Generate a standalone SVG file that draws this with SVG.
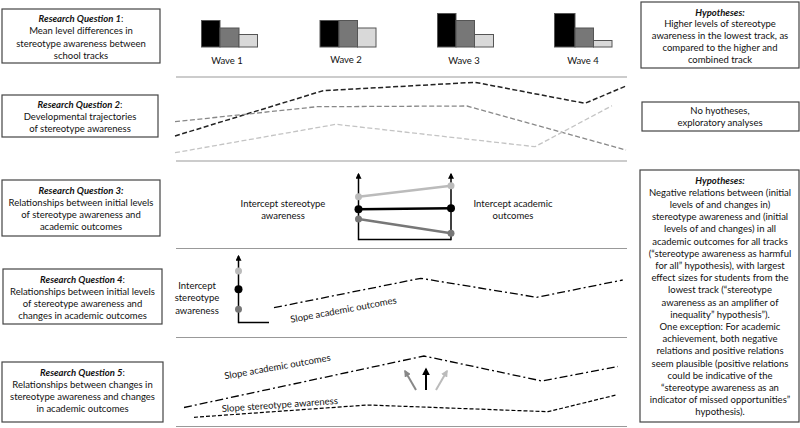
<svg xmlns="http://www.w3.org/2000/svg" width="800" height="428" viewBox="0 0 800 428">
<style>
text{font-family:Lato,"Liberation Sans",sans-serif;font-size:9.5px;fill:#111;text-anchor:middle}
.b{font-weight:bold;font-style:italic}
.box{fill:#fff;stroke:#444;stroke-width:1.2}
.sep{stroke:#999;stroke-width:1;fill:none}
.bar{stroke:#555;stroke-width:1}
.ax{stroke:#000;stroke-width:1.5;fill:none}
</style>
<defs>
<marker id="ah" viewBox="0 0 10 10" refX="8" refY="5" markerWidth="4" markerHeight="4" orient="auto"><path d="M0,0L10,5L0,10z" fill="#000"/></marker>
<marker id="ahg" viewBox="0 0 10 10" refX="8" refY="5" markerWidth="3.5" markerHeight="3.5" orient="auto"><path d="M0,0L10,5L0,10z" fill="#888"/></marker>
<marker id="ahl" viewBox="0 0 10 10" refX="8" refY="5" markerWidth="3.5" markerHeight="3.5" orient="auto"><path d="M0,0L10,5L0,10z" fill="#bbb"/></marker>
</defs>
<rect width="800" height="428" fill="#fff"/>

<!-- Left question boxes -->
<g id="rq1"><rect class="box" x="2" y="9" width="158" height="54"/>
<text x="81" y="21.5"><tspan class="b">Research Question 1</tspan>:</text>
<text x="81" y="34">Mean level differences in</text>
<text x="81" y="46.5">stereotype awareness between</text>
<text x="81" y="59">school tracks</text></g>

<g id="rq2"><rect class="box" x="2" y="95" width="156" height="42"/>
<text x="80" y="107.5"><tspan class="b">Research Question 2</tspan>:</text>
<text x="80" y="119.5">Developmental trajectories</text>
<text x="80" y="131.5">of stereotype awareness</text></g>

<g id="rq3"><rect class="box" x="2" y="180" width="158" height="56"/>
<text x="81" y="193.5" class="b">Research Question 3:</text>
<text x="81" y="205.5">Relationships between initial levels</text>
<text x="81" y="217.5">of stereotype awareness and</text>
<text x="81" y="229.5">academic outcomes</text></g>

<g id="rq4"><rect class="box" x="3" y="269" width="159" height="55"/>
<text x="82.5" y="282.5"><tspan class="b">Research Question 4</tspan>:</text>
<text x="82.5" y="294.5">Relationships between initial levels</text>
<text x="82.5" y="306.5">of stereotype awareness and</text>
<text x="82.5" y="318.5">changes in academic outcomes</text></g>

<g id="rq5"><rect class="box" x="2" y="362" width="161" height="60"/>
<text x="82.5" y="376"><tspan class="b">Research Question 5</tspan>:</text>
<text x="82.5" y="388">Relationships between changes in</text>
<text x="82.5" y="400">stereotype awareness and changes</text>
<text x="82.5" y="412">in academic outcomes</text></g>

<!-- Right hypotheses boxes -->
<g id="h1"><rect class="box" x="641" y="2" width="158" height="66"/>
<text x="720" y="15.5" class="b">Hypotheses:</text>
<text x="720" y="27">Higher levels of stereotype</text>
<text x="720" y="38.5">awareness in the lowest track, as</text>
<text x="720" y="50.5">compared to the higher and</text>
<text x="720" y="62.5">combined track</text></g>

<g id="h2"><rect class="box" x="642" y="102" width="157" height="29"/>
<text x="720" y="113.5">No hyotheses,</text>
<text x="720" y="125.5">exploratory analyses</text></g>

<g id="h3"><rect class="box" x="640" y="170" width="159" height="252"/>
<text x="720" y="183.5" class="b">Hypotheses:</text>
<text x="720" y="195.7">Negative relations between (initial</text>
<text x="720" y="207.9">levels of and changes in)</text>
<text x="720" y="220.1">stereotype awareness and (initial</text>
<text x="720" y="232.3">levels of and changes) in all</text>
<text x="720" y="244.5">academic outcomes for all tracks</text>
<text x="720" y="256.7">(“stereotype awareness as harmful</text>
<text x="720" y="268.9">for all” hypothesis), with largest</text>
<text x="720" y="281.1">effect sizes for students from the</text>
<text x="720" y="293.3">lowest track (“stereotype</text>
<text x="720" y="305.5">awareness as an amplifier of</text>
<text x="720" y="317.7">inequality” hypothesis”).</text>
<text x="720" y="329.9">One exception: For academic</text>
<text x="720" y="342.1">achievement, both negative</text>
<text x="720" y="354.3">relations and positive relations</text>
<text x="720" y="366.5">seem plausible (positive relations</text>
<text x="720" y="378.7">could be indicative of the</text>
<text x="720" y="390.9">“stereotype awareness as an</text>
<text x="720" y="403.1">indicator of missed opportunities”</text>
<text x="720" y="415.3">hypothesis).</text></g>

<!-- Separators -->
<g id="separators">
<line class="sep" x1="176" y1="77" x2="627" y2="77"/>
<line class="sep" x1="176" y1="161" x2="627" y2="161"/>
<line class="sep" x1="176" y1="248.5" x2="627" y2="248.5"/>
<line class="sep" x1="176" y1="337.5" x2="627" y2="337.5"/>
<line class="sep" x1="176" y1="426.5" x2="627" y2="426.5"/>
</g>

<!-- RQ1 bar charts -->
<g id="wave1">
<rect class="bar" x="201.5" y="20.5" width="18.5" height="26.5" fill="#000"/>
<rect class="bar" x="220" y="28" width="19" height="19" fill="#777"/>
<rect class="bar" x="239" y="34.5" width="18.5" height="12.5" fill="#d9d9d9"/>
<text x="227" y="64">Wave 1</text></g>
<g id="wave2">
<rect class="bar" x="320" y="20.5" width="19" height="26.5" fill="#000"/>
<rect class="bar" x="339" y="20.5" width="18.5" height="26.5" fill="#777"/>
<rect class="bar" x="357.5" y="28" width="18.5" height="19" fill="#d9d9d9"/>
<text x="346" y="63">Wave 2</text></g>
<g id="wave3">
<rect class="bar" x="437.5" y="13.5" width="18.5" height="33.5" fill="#000"/>
<rect class="bar" x="456" y="20.5" width="18.5" height="26.5" fill="#777"/>
<rect class="bar" x="474.5" y="34.5" width="19" height="12.5" fill="#d9d9d9"/>
<text x="464" y="64">Wave 3</text></g>
<g id="wave4">
<rect class="bar" x="554.5" y="13.5" width="20.5" height="33.5" fill="#000"/>
<rect class="bar" x="575" y="28" width="18.5" height="19" fill="#777"/>
<rect class="bar" x="593.5" y="40.5" width="18.5" height="6.5" fill="#d9d9d9"/>
<text x="583" y="64">Wave 4</text></g>

<!-- RQ2 trajectories -->
<g id="trajectories" fill="none">
<polyline points="175,136 323,90.7 475,82.3 585,103.3 626,86" stroke="#222" stroke-width="1.5" stroke-dasharray="5,2.5"/>
<polyline points="175,121.7 317,106.7 467,106 626,150" stroke="#888" stroke-width="1.3" stroke-dasharray="5,2.5"/>
<polyline points="175,152.7 336,124.3 535,146.7 612,105.7" stroke="#c4c4c4" stroke-width="1.3" stroke-dasharray="5,2.5"/>
</g>

<!-- RQ3 -->
<g id="rq3-plot">
<line class="ax" x1="358.5" y1="239.5" x2="451" y2="239.5"/>
<line class="ax" x1="358.5" y1="240.2" x2="358.5" y2="174" marker-end="url(#ah)"/>
<line class="ax" x1="451" y1="240.2" x2="451" y2="174" marker-end="url(#ah)"/>
<line x1="358.5" y1="196.7" x2="451" y2="185.7" stroke="#bbb" stroke-width="2.5"/>
<line x1="358.5" y1="209.3" x2="451" y2="208.3" stroke="#000" stroke-width="2.5"/>
<line x1="358.5" y1="219" x2="451" y2="233.3" stroke="#777" stroke-width="2.5"/>
<circle cx="358.5" cy="196.7" r="3.5" fill="#bbb"/>
<circle cx="451" cy="185.7" r="3.5" fill="#bbb"/>
<circle cx="358.5" cy="209.3" r="4" fill="#000"/>
<circle cx="451" cy="208.3" r="4" fill="#000"/>
<circle cx="358.5" cy="219" r="3.5" fill="#777"/>
<circle cx="451" cy="233.3" r="3.5" fill="#777"/>
<text x="283" y="206.5">Intercept stereotype</text>
<text x="283" y="218.5">awareness</text>
<text x="513" y="206.5">Intercept academic</text>
<text x="513" y="218.5">outcomes</text>
</g>

<!-- RQ4 -->
<g id="rq4-plot">
<line class="ax" x1="238.5" y1="322.5" x2="269" y2="322.5"/>
<line class="ax" x1="238.5" y1="323.2" x2="238.5" y2="256" marker-end="url(#ah)"/>
<circle cx="238.5" cy="271" r="3.5" fill="#bbb"/>
<circle cx="238.5" cy="289.3" r="4" fill="#000"/>
<circle cx="238.5" cy="309.3" r="3.5" fill="#777"/>
<text x="197" y="288.5">Intercept</text>
<text x="197" y="301">stereotype</text>
<text x="197" y="313.5">awareness</text>
<polyline points="274,307.7 420.7,278.3 536.7,297.3 622.7,280" fill="none" stroke="#000" stroke-width="1.3" stroke-dasharray="8,3,2,3"/>
<text x="344" y="313" transform="rotate(-10.5 344 313)">Slope academic outcomes</text>
</g>

<!-- RQ5 -->
<g id="rq5-plot">
<polyline points="184,407.5 424,356 542,381 618,366.5" fill="none" stroke="#000" stroke-width="1.3" stroke-dasharray="8,3,2,3"/>
<polyline points="194,417.3 368,405 548,411.7 616,395" fill="none" stroke="#000" stroke-width="1.2" stroke-dasharray="4,2"/>
<text x="278" y="370" transform="rotate(-10 278 370)">Slope academic outcomes</text>
<text x="280" y="408" transform="rotate(-4 280 408)">Slope stereotype awareness</text>
</g>

<g id="connectors">
<line x1="416" y1="390" x2="405" y2="371" stroke="#888" stroke-width="2" marker-end="url(#ahg)"/>
<line x1="426" y1="390" x2="426" y2="369" stroke="#000" stroke-width="2" marker-end="url(#ah)"/>
<line x1="436" y1="390" x2="447" y2="371" stroke="#bbb" stroke-width="2" marker-end="url(#ahl)"/>
</g>
</svg>
